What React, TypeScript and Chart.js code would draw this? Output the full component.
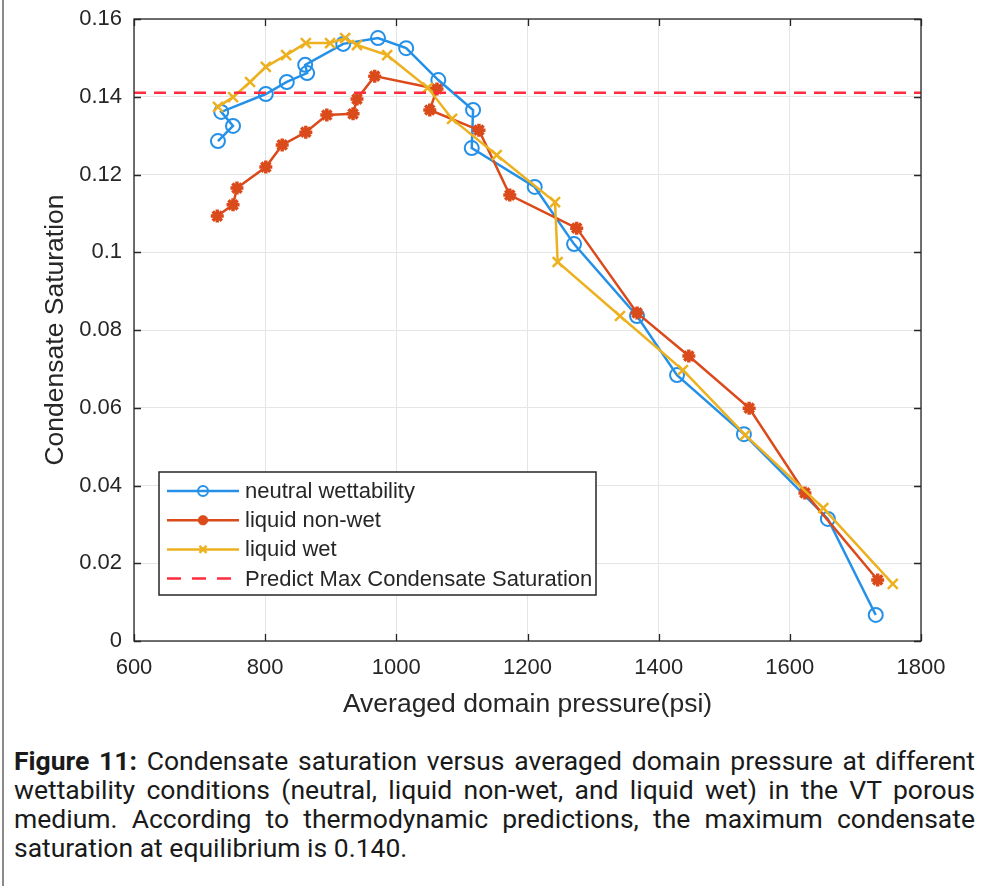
import React, { useEffect, useRef } from 'react';
import { Chart, registerables } from 'chart.js';

Chart.register(...registerables);

// Averaged domain pressure (psi) and condensate saturation for each wettability case
const neutralPressure = [728, 751, 733, 801, 833, 864, 861, 919, 972, 1015, 1064, 1117, 1115, 1211, 1271, 1367, 1428, 1530, 1658, 1731];
const neutralSaturation = [0.1286, 0.1325, 0.1361, 0.1407, 0.1438, 0.1461, 0.1482, 0.1536, 0.1551, 0.1525, 0.1443, 0.1366, 0.1268, 0.1168, 0.1021, 0.0836, 0.0684, 0.0532, 0.0314, 0.0067];

const nonWetPressure = [727, 751, 757, 801, 826, 862, 894, 934, 940, 967, 1062, 1051, 1126, 1173, 1275, 1367, 1446, 1538, 1623, 1734];
const nonWetSaturation = [0.1093, 0.1122, 0.1165, 0.1219, 0.1276, 0.1309, 0.1353, 0.1356, 0.1394, 0.1453, 0.1420, 0.1366, 0.1314, 0.1147, 0.1062, 0.0844, 0.0733, 0.0599, 0.0381, 0.0157];

const wetPressure = [728, 751, 777, 801, 832, 862, 899, 922, 940, 986, 1048, 1085, 1153, 1242, 1246, 1341, 1437, 1532, 1651, 1757];
const wetSaturation = [0.1374, 0.1399, 0.1438, 0.1477, 0.1507, 0.1538, 0.1538, 0.1551, 0.1533, 0.1507, 0.1423, 0.1343, 0.1250, 0.1129, 0.0975, 0.0836, 0.0697, 0.0530, 0.0342, 0.0147];

// Thermodynamic prediction of the maximum condensate saturation
const predictedPressure = [600, 1800];
const predictedSaturation = [0.141, 0.141];

const seriesLabels = ['neutral wettability', 'liquid non-wet', 'liquid wet', 'Predict Max Condensate Saturation'];

const xTicks = [600, 800, 1000, 1200, 1400, 1600, 1800];
const xTickLabels = ['600', '800', '1000', '1200', '1400', '1600', '1800'];
const yTicks = [0, 0.02, 0.04, 0.06, 0.08, 0.1, 0.12, 0.14, 0.16];
const yTickLabels = ['0', '0.02', '0.04', '0.06', '0.08', '0.1', '0.12', '0.14', '0.16'];

const xTitle = 'Averaged domain pressure(psi)';
const yTitle = 'Condensate Saturation';

const BLUE = '#2590e8';
const RED = '#da4a1b';
const YELLOW = '#edb120';
const DASH_RED = '#ff2d3d';
const INK = '#262626';
const GRID = '#e2e6e4';
const FONT = '"Liberation Sans", Arial, Helvetica, sans-serif';

const toPoints = (xs: number[], ys: number[]) => xs.map((x, i) => ({ x, y: ys[i] }));

function drawMarker(ctx: CanvasRenderingContext2D, style: string, x: number, y: number, r: number) {
  ctx.beginPath();
  if (style === 'circle') {
    ctx.arc(x, y, r, 0, Math.PI * 2);
  } else if (style === 'star') {
    const d = r * Math.SQRT1_2;
    ctx.moveTo(x - r, y); ctx.lineTo(x + r, y);
    ctx.moveTo(x, y - r); ctx.lineTo(x, y + r);
    ctx.moveTo(x - d, y - d); ctx.lineTo(x + d, y + d);
    ctx.moveTo(x - d, y + d); ctx.lineTo(x + d, y - d);
  } else if (style === 'crossRot') {
    const d = r * Math.SQRT1_2;
    ctx.moveTo(x - d, y - d); ctx.lineTo(x + d, y + d);
    ctx.moveTo(x - d, y + d); ctx.lineTo(x + d, y - d);
  }
  ctx.stroke();
}

// Axes box with inward tick marks on all four sides
const framePlugin = {
  id: 'axesFrame',
  afterDatasetsDraw(chart: any) {
    const { ctx, chartArea } = chart;
    const { left, right, top, bottom } = chartArea;
    const xs = chart.scales.x;
    const ys = chart.scales.y;
    const tick = 7;
    ctx.save();
    ctx.strokeStyle = INK;
    ctx.lineWidth = 1.3;
    ctx.setLineDash([]);
    ctx.beginPath();
    xTicks.forEach((v) => {
      const px = Math.round(xs.getPixelForValue(v)) + 0.5;
      ctx.moveTo(px, bottom); ctx.lineTo(px, bottom - tick);
      ctx.moveTo(px, top); ctx.lineTo(px, top + tick);
    });
    yTicks.forEach((v) => {
      const py = Math.round(ys.getPixelForValue(v)) + 0.5;
      ctx.moveTo(left, py); ctx.lineTo(left + tick, py);
      ctx.moveTo(right, py); ctx.lineTo(right - tick, py);
    });
    ctx.stroke();
    ctx.strokeRect(left, top, right - left, bottom - top);
    ctx.restore();
  },
};

// Legend box inside the lower-left of the axes
const insetLegendPlugin = {
  id: 'insetLegend',
  afterDraw(chart: any) {
    const { ctx, chartArea } = chart;
    const boxX = chartArea.left + 25;
    const boxY = chartArea.bottom - 169;
    const boxW = 437;
    const boxH = 123;
    ctx.save();
    ctx.fillStyle = '#ffffff';
    ctx.fillRect(boxX, boxY, boxW, boxH);
    ctx.strokeStyle = INK;
    ctx.lineWidth = 1.5;
    ctx.setLineDash([]);
    ctx.strokeRect(boxX, boxY, boxW, boxH);
    chart.data.datasets.forEach((ds: any, i: number) => {
      const y = boxY + 19 + i * 29.2;
      ctx.strokeStyle = ds.borderColor;
      ctx.lineWidth = ds.borderWidth;
      ctx.setLineDash(ds.borderDash ? [14, 11] : []);
      ctx.beginPath();
      ctx.moveTo(boxX + 8, y);
      ctx.lineTo(boxX + 80, y);
      ctx.stroke();
      ctx.setLineDash([]);
      if (ds.pointRadius > 0) {
        ctx.lineWidth = ds.pointBorderWidth;
        drawMarker(ctx, ds.pointStyle, boxX + 44, y, 5);
      }
      ctx.fillStyle = INK;
      ctx.font = `22px ${FONT}`;
      ctx.textBaseline = 'middle';
      ctx.textAlign = 'left';
      ctx.fillText(ds.label, boxX + 86, y + 1);
    });
    ctx.restore();
  },
};

export default function App() {
  const canvasRef = useRef<HTMLCanvasElement>(null);

  useEffect(() => {
    const canvas = canvasRef.current;
    if (!canvas) return;
    const chart = new Chart(canvas, {
      type: 'scatter',
      data: {
        datasets: [
          {
            label: seriesLabels[0],
            data: toPoints(neutralPressure, neutralSaturation),
            showLine: true,
            borderColor: BLUE,
            backgroundColor: 'rgba(0,0,0,0)',
            borderWidth: 2.5,
            pointStyle: 'circle',
            pointRadius: 7,
            pointBorderWidth: 2,
            pointBorderColor: BLUE,
            pointBackgroundColor: 'rgba(0,0,0,0)',
            order: 4,
          },
          {
            label: seriesLabels[1],
            data: toPoints(nonWetPressure, nonWetSaturation),
            showLine: true,
            borderColor: RED,
            backgroundColor: RED,
            borderWidth: 2.5,
            pointStyle: 'star',
            pointRadius: 6.5,
            pointBorderWidth: 3.5,
            pointBorderColor: RED,
            pointBackgroundColor: RED,
            order: 3,
          },
          {
            label: seriesLabels[2],
            data: toPoints(wetPressure, wetSaturation),
            showLine: true,
            borderColor: YELLOW,
            backgroundColor: YELLOW,
            borderWidth: 2.5,
            pointStyle: 'crossRot',
            pointRadius: 7,
            pointBorderWidth: 2.5,
            pointBorderColor: YELLOW,
            order: 2,
          },
          {
            label: seriesLabels[3],
            data: toPoints(predictedPressure, predictedSaturation),
            showLine: true,
            borderColor: DASH_RED,
            backgroundColor: DASH_RED,
            borderWidth: 2.5,
            borderDash: [12, 8],
            pointRadius: 0,
            order: 1,
          },
        ],
      },
      options: {
        responsive: false,
        animation: false,
        events: [],
        layout: { padding: { left: 0, top: 19, right: 63, bottom: 0 } },
        plugins: {
          legend: { display: false },
          tooltip: { enabled: false },
        },
        scales: {
          x: {
            type: 'linear',
            min: 600,
            max: 1800,
            afterBuildTicks: (scale: any) => {
              scale.ticks = xTicks.map((value) => ({ value }));
            },
            afterFit: (scale: any) => {
              scale.height = 79;
              scale.paddingLeft = 0;
              scale.paddingRight = 0;
            },
            grid: { color: GRID, lineWidth: 1, drawTicks: false },
            border: { display: false },
            ticks: {
              padding: 14,
              color: INK,
              font: { family: FONT, size: 22 },
              maxRotation: 0,
              callback: (_v: any, index: number) => xTickLabels[index],
            },
            title: {
              display: true,
              text: xTitle,
              color: INK,
              font: { family: FONT, size: 26.5, lineHeight: 1 },
              padding: { top: 0, bottom: 2 },
            },
          },
          y: {
            type: 'linear',
            min: 0,
            max: 0.16,
            afterBuildTicks: (scale: any) => {
              scale.ticks = yTicks.map((value) => ({ value }));
            },
            afterFit: (scale: any) => {
              scale.width = 134;
              scale.paddingTop = 0;
              scale.paddingBottom = 0;
            },
            grid: { color: GRID, lineWidth: 1, drawTicks: false },
            border: { display: false },
            ticks: {
              padding: 12,
              color: INK,
              font: { family: FONT, size: 22 },
              callback: (_v: any, index: number) => yTickLabels[index],
            },
            title: {
              display: true,
              text: yTitle,
              color: INK,
              font: { family: FONT, size: 26.5, lineHeight: 1 },
              padding: { top: 42, bottom: 0 },
            },
          },
        },
      },
      plugins: [framePlugin, insetLegendPlugin],
    } as any);
    return () => chart.destroy();
  }, []);

  const lineStyle: React.CSSProperties = { textAlign: 'justify', textAlignLast: 'justify' as any, height: 29 };

  return (
    <div style={{ position: 'absolute', left: 0, top: 0, width: 984, height: 886, background: '#ffffff', overflow: 'hidden' }}>
      <div style={{ position: 'absolute', left: 2, top: 0, width: 2, height: 886, background: '#8a8a8a' }} />
      <canvas ref={canvasRef} width={984} height={720} style={{ position: 'absolute', left: 0, top: 0, display: 'block' }} />
      <div
        style={{
          position: 'absolute',
          left: 14,
          top: 746,
          width: 961,
          fontFamily: 'Roboto, "Noto Sans", sans-serif',
          fontSize: 26.5,
          lineHeight: '29px',
          color: '#1a1a1a',
        }}
      >
        <div style={lineStyle}>
          <b>Figure 11:</b> Condensate saturation versus averaged domain pressure at different
        </div>
        <div style={lineStyle}>
          wettability conditions (neutral, liquid non-wet, and liquid wet) in the VT porous
        </div>
        <div style={lineStyle}>
          medium. According to thermodynamic predictions, the maximum condensate
        </div>
        <div style={{ height: 29 }}>saturation at equilibrium is 0.140.</div>
      </div>
    </div>
  );
}
